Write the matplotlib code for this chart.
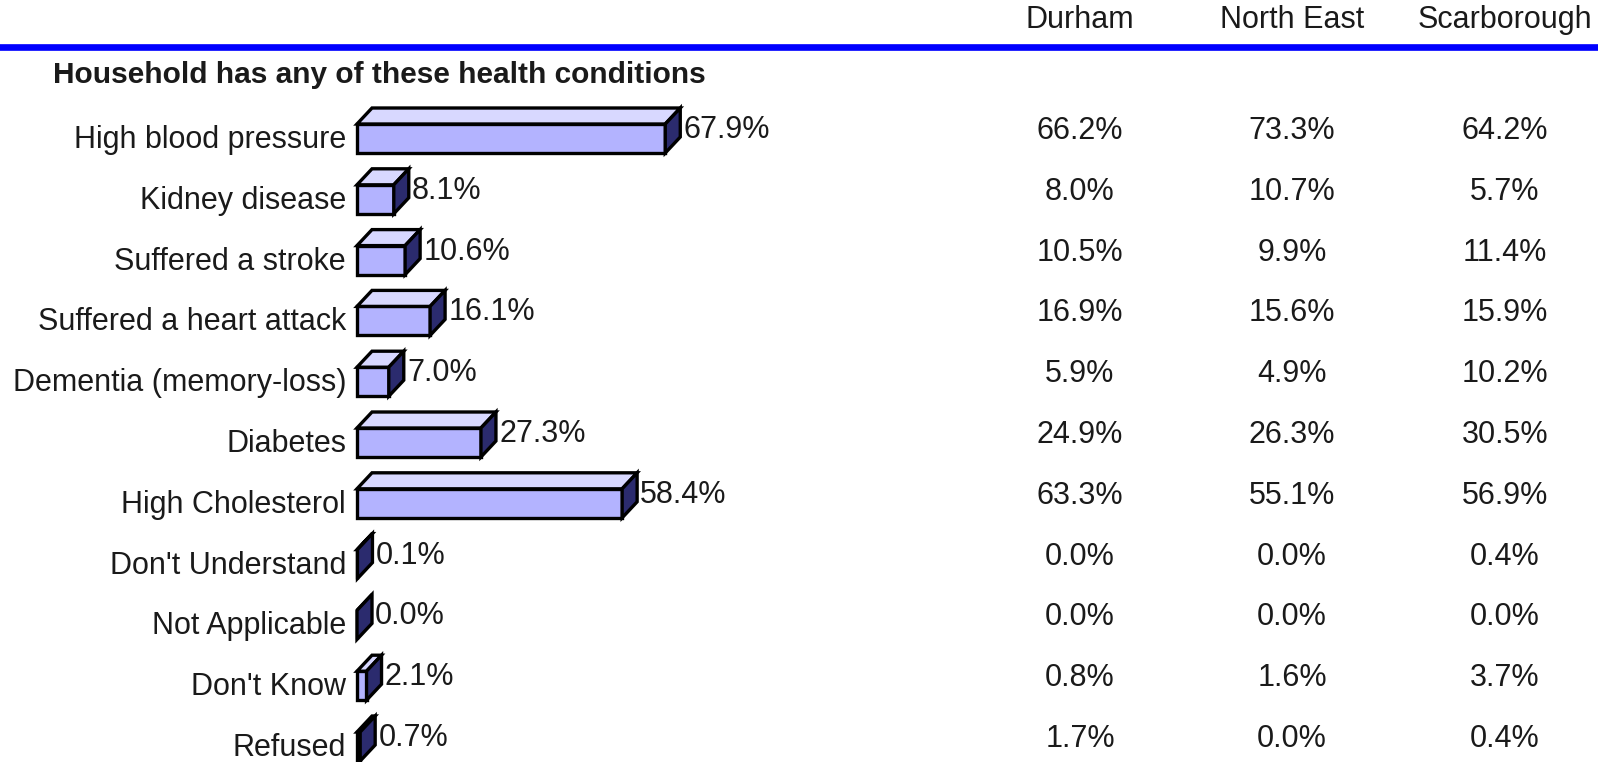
import matplotlib

matplotlib.use("Agg")
import matplotlib.pyplot as plt
from matplotlib.patches import Polygon
from matplotlib.transforms import blended_transform_factory

plt.rcParams["font.family"] = ["Liberation Sans", "DejaVu Sans"]

TITLE = "Household has any of these health conditions"
CONDITIONS = [
    "High blood pressure",
    "Kidney disease",
    "Suffered a stroke",
    "Suffered a heart attack",
    "Dementia (memory-loss)",
    "Diabetes",
    "High Cholesterol",
    "Don't Understand",
    "Not Applicable",
    "Don't Know",
    "Refused",
]
OVERALL = [67.9, 8.1, 10.6, 16.1, 7.0, 27.3, 58.4, 0.1, 0.0, 2.1, 0.7]
REGIONS = ["Durham", "North East", "Scarborough"]
DURHAM = [66.2, 8.0, 10.5, 16.9, 5.9, 24.9, 63.3, 0.0, 0.0, 0.8, 1.7]
NORTH_EAST = [73.3, 10.7, 9.9, 15.6, 4.9, 26.3, 55.1, 0.0, 0.0, 1.6, 0.0]
SCARBOROUGH = [64.2, 5.7, 11.4, 15.9, 10.2, 30.5, 56.9, 0.4, 0.0, 3.7, 0.4]

W, H = 1598, 762
X0_PX = 357.0          # pixel where 0% sits
PX_PER_PCT = 4.54
ROW0_PX = 138.5        # pixel centre of first bar
ROW_PX = 60.8
BAR_H = 29.0 / ROW_PX
DX = 15.0 / PX_PER_PCT
DY = 16.0 / ROW_PX
COL_X_PX = [1080, 1292, 1505]

FRONT = "#b3b3ff"
TOP = "#d8d8ff"
SIDE = "#2b2b6e"
TEXT = "#1a1a1a"
FS = 22


def px_to_x(px):
    return (px - X0_PX) / PX_PER_PCT


def px_to_row(py):
    return (py - ROW0_PX) / ROW_PX


def draw_bar(ax, row, value):
    top = row - BAR_H / 2
    bot = row + BAR_H / 2
    kw = dict(edgecolor="black", linewidth=2.4, joinstyle="miter")
    ax.add_patch(Polygon([(0, bot), (value, bot), (value, top), (0, top)],
                         facecolor=FRONT, **kw))
    ax.add_patch(Polygon([(0, top), (value, top), (value + DX, top - DY), (DX, top - DY)],
                         facecolor=TOP, **kw))
    ax.add_patch(Polygon([(value, bot), (value + DX, bot - DY), (value + DX, top - DY), (value, top)],
                         facecolor=SIDE, **kw))


def main():
    fig = plt.figure(figsize=(W / 100, H / 100), dpi=100)
    ax = fig.add_axes([0, 0, 1, 1])
    ax.set_xlim(px_to_x(0), px_to_x(W))
    ax.set_ylim(px_to_row(H), px_to_row(0))
    ax.axis("off")

    # header row and blue rule
    colx = blended_transform_factory(fig.transFigure, ax.transData)
    for name, cx in zip(REGIONS, COL_X_PX):
        ax.text(cx / W, px_to_row(28), name, transform=colx, ha="center",
                va="baseline", fontsize=FS, color=TEXT)
    ax.axhline(px_to_row(46.5), color="#0000ff", linewidth=4.8)
    ax.text(px_to_x(53), px_to_row(83), TITLE, ha="left", va="baseline",
            fontsize=FS - 0.5, fontweight="bold", color=TEXT)

    columns = [DURHAM, NORTH_EAST, SCARBOROUGH]
    for i, (label, value) in enumerate(zip(CONDITIONS, OVERALL)):
        ax.text(px_to_x(346), i + 9.5 / ROW_PX, label, ha="right", va="baseline",
                fontsize=FS, color=TEXT)
        draw_bar(ax, i, value)
        ax.text(value + DX + 0.7, i - 0.5 / ROW_PX, f"{value:.1f}%", ha="left",
                va="baseline", fontsize=FS, color=TEXT)
        for col, cx in zip(columns, COL_X_PX):
            ax.text(cx / W, i + 0.5 / ROW_PX, f"{col[i]:.1f}%", transform=colx,
                    ha="center", va="baseline", fontsize=FS, color=TEXT)

    fig.savefig("out.png", dpi=100)
    plt.close(fig)


if __name__ == "__main__":
    main()
